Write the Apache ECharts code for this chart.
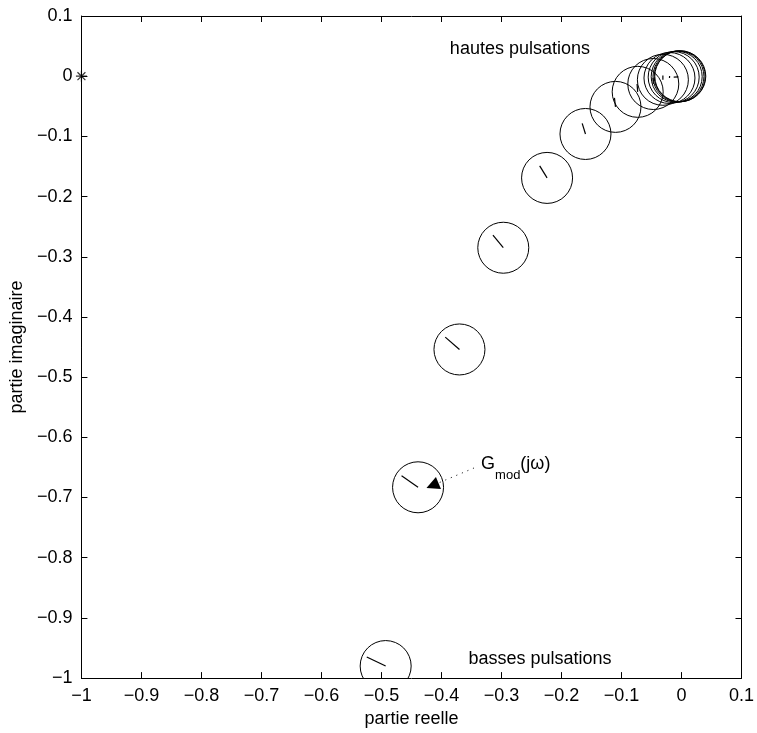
<!DOCTYPE html>
<html>
<head>
<meta charset="utf-8">
<script src="https://cdn.jsdelivr.net/npm/echarts@6/dist/echarts.min.js"></script>
<style>
html, body { margin: 0; padding: 0; background: #fff; }
#chart { width: 757px; height: 733px; }
</style>
</head>
<body>
<div id="chart"></div>
<script>
// centres des cercles (partie reelle / partie imaginaire)
var centreRe = [-0.493, -0.439, -0.370, -0.297, -0.224, -0.160, -0.110, -0.073, -0.047, -0.031, -0.020, -0.013, -0.008, -0.005, -0.003, -0.002];
var centreIm = [-0.980, -0.683, -0.454, -0.285, -0.169, -0.096, -0.051, -0.026, -0.013, -0.006, -0.003, -0.0015, -0.0008, -0.0004, -0.0002, -0.0001];
// extremite du petit trait partant de chaque centre
var traitRe = [-0.5245, -0.4665, -0.3937, -0.3142, -0.2363, -0.1655, -0.1117, -0.0740, -0.0475, -0.0310, -0.0198, -0.0050, -0.008, -0.005, -0.003, -0.002];
var traitIm = [-0.965, -0.664, -0.4335, -0.264, -0.149, -0.0783, -0.0361, -0.0130, -0.0030, 0.0010, 0.0003, -0.0013, -0.0008, -0.0004, -0.0002, -0.0001];
var pointCritique = [-1, 0];
var axeMin = -1, axeMax = 0.1, pas = 0.1;
var textes = ['hautes pulsations', 'basses pulsations', '{g|G}{s|mod}{g|(j\u03c9)}'];
var texteRe = [-0.386, -0.355, -0.334];
var texteIm = [0.0446, -0.9675, -0.647];
var flecheRe = [-0.346, -0.415];
var flecheIm = [-0.651, -0.680];

var police = 'Liberation Sans, Arial, Helvetica, sans-serif';

function fmt(v) {
	var a = +Math.abs(v).toFixed(1);
	if (a === 0) return '0';
	return (v < 0 ? '\u2212' : '') + a;
}

var cercles = [];
for (var i = 0; i < centreRe.length; i++) {
	cercles.push([centreRe[i], centreIm[i], traitRe[i], traitIm[i]]);
}
var annot = [];
for (var j = 0; j < textes.length; j++) {
	annot.push([texteRe[j], texteIm[j], textes[j]]);
}

function axe(pos, show) {
	return {
		type: 'value',
		position: pos,
		min: axeMin,
		max: axeMax,
		interval: pas,
		axisLine: { show: true, onZero: false, lineStyle: { color: '#000', width: 1 } },
		axisTick: { show: true, inside: true, length: 6, lineStyle: { color: '#000', width: 1 } },
		axisLabel: { show: show, color: '#000', fontFamily: police, fontSize: 18, margin: 9, formatter: fmt },
		splitLine: { show: false }
	};
}

var xBas = axe('bottom', true);
xBas.name = 'partie reelle';
xBas.nameLocation = 'middle';
xBas.nameGap = 28;
xBas.nameTextStyle = { color: '#000', fontFamily: police, fontSize: 18 };
var yGauche = axe('left', true);
yGauche.name = 'partie imaginaire';
yGauche.nameLocation = 'middle';
yGauche.nameGap = 48;
yGauche.nameTextStyle = { color: '#000', fontFamily: police, fontSize: 18 };

var mycharts = echarts.init(document.getElementById('chart'), null, { renderer: 'canvas' });
var option = {
	animation: false,
	backgroundColor: '#fff',
	grid: { left: 78, right: 15, top: 16, bottom: 50, containLabel: false },
	xAxis: [xBas, axe('top', false)],
	yAxis: [yGauche, axe('right', false)],
	series: [{
		type: 'custom',
		clip: true,
		data: cercles,
		encode: { x: [0, 2], y: [1, 3] },
		renderItem: function (params, api) {
			var c = api.coord([api.value(0), api.value(1)]);
			var h = api.coord([api.value(2), api.value(3)]);
			return {
				type: 'group',
				children: [{
					type: 'circle',
					shape: { cx: c[0], cy: c[1], r: 25.5 },
					style: { fill: 'none', stroke: '#000', lineWidth: 1 }
				}, {
					type: 'line',
					shape: { x1: c[0], y1: c[1], x2: h[0], y2: h[1] },
					style: { stroke: '#000', lineWidth: 1.2 }
				}]
			};
		}
	}, {
		type: 'scatter',
		clip: false,
		data: [pointCritique],
		symbol: 'path://M0,-5L0,5M-5,0L5,0M-3.6,-3.6L3.6,3.6M-3.6,3.6L3.6,-3.6',
		symbolSize: 11,
		itemStyle: { color: 'none', borderColor: '#000', borderWidth: 1.2 }
	}, {
		type: 'lines',
		coordinateSystem: 'cartesian2d',
		data: [{ coords: [[flecheRe[0], flecheIm[0]], [flecheRe[1], flecheIm[1]]] }],
		symbol: ['none', 'triangle'],
		symbolSize: [9, 13],
		lineStyle: { color: '#000', width: 1, type: [1, 5], opacity: 1 }
	}, {
		type: 'custom',
		clip: false,
		data: annot,
		renderItem: function (params, api) {
			var p = api.coord([api.value(0), api.value(1)]);
			return {
				type: 'text',
				x: p[0],
				y: p[1],
				style: {
					text: annot[params.dataIndex][2],
					fill: '#000',
					font: '18px ' + police,
					align: 'left',
					verticalAlign: 'middle',
					rich: {
						g: { fontSize: 18, fontFamily: police, fill: '#000', lineHeight: 22, verticalAlign: 'top' },
						s: { fontSize: 13, fontFamily: police, fill: '#000', lineHeight: 14, padding: [14, 0, 0, 0], verticalAlign: 'top' }
					}
				}
			};
		}
	}]
};
mycharts.setOption(option);
</script>
</body>
</html>
